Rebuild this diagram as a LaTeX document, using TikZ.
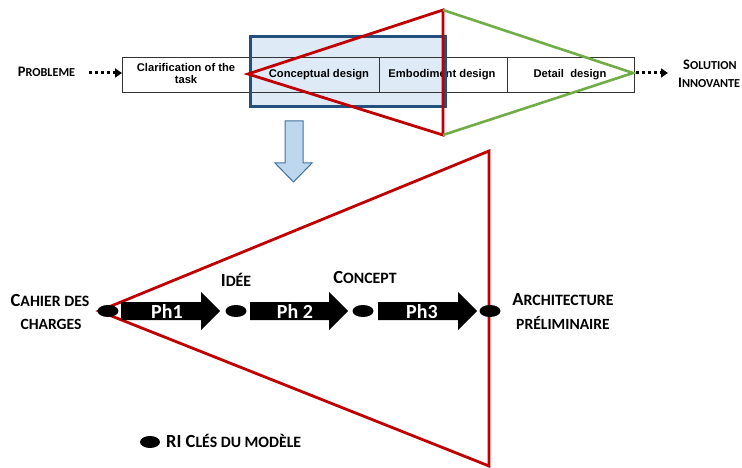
\documentclass[tikz,border=0pt]{standalone}
\usepackage{fontspec}
\setmainfont{Carlito}
\newfontfamily\arialfont{Liberation Sans}
\usetikzlibrary{arrows.meta,shapes.geometric}
\definecolor{redT}{HTML}{C00000}
\definecolor{greenT}{HTML}{70AD47}
\definecolor{blueB}{HTML}{24507D}
\definecolor{blueF}{HTML}{DEEAF6}
\definecolor{arrF}{HTML}{BDD7EE}
\definecolor{arrB}{HTML}{41719C}
\newcommand\capsL[2]{{\fontsize{18.5}{20}\selectfont #1}{\fontsize{15.8}{18}\selectfont #2}}
\newcommand\capsS[2]{{\fontsize{14.5}{16}\selectfont #1}{\fontsize{12.2}{14}\selectfont #2}}
\newcommand\capsLs[1]{{\fontsize{15.6}{18}\selectfont #1}}
\begin{document}
\begin{tikzpicture}[x=1pt,y=-1pt,
  lbl/.style={anchor=base, inner sep=0, font=\bfseries},
  lblw/.style={anchor=base west, inner sep=0, font=\bfseries},
  boxtxt/.style={anchor=base, inner sep=0, font=\arialfont\bfseries\fontsize{11.2}{13}\selectfont},
  dot/.style={ellipse, fill=black, minimum width=21pt, minimum height=12pt, inner sep=0},
  dotarrow/.style={line width=3pt, dash pattern=on 3pt off 3pt, -{Triangle[length=7pt,width=9pt]}},
  blockarrow/.style={fill=black},
  phtxt/.style={anchor=base, inner sep=0, text=white, font=\bfseries\fontsize{20}{22}\selectfont},
  redline/.style={draw=redT, line width=2.8pt, line join=miter},
  greenline/.style={draw=greenT, line width=2.6pt},
  downarrow/.style={fill=arrF, draw=arrB, line width=1pt}
]
\useasboundingbox (0,0) rectangle (742,468);

% ---------- top part ----------
\fill[blueF] (250,37) rectangle (445,107);
\node[draw=black!80, line width=0.8pt, minimum width=512pt, minimum height=35pt, inner sep=0] (proc) at (378,74.5) {};
\draw[black!80, line width=0.8pt] (251,57) -- (251,92);
\draw[black!80, line width=0.8pt] (379,57) -- (379,92);
\draw[black!80, line width=0.8pt] (507,57) -- (507,92);
\node[boxtxt] (t1) at (186,72) {Clarification of the};
\node[boxtxt] (t1b) at (186,84) {task};
\node[boxtxt] (t2) at (319,78) {Conceptual design};
\node[boxtxt] (t3) at (442,78) {Embodiment design};
\node[boxtxt] (t4) at (570,78) {Detail\ \ design};
\draw[blueB, line width=3pt] (250,37) rectangle (445,107);

\coordinate (rA) at (248,74);
\coordinate (rT) at (443,10);
\coordinate (rB) at (443,135);
\coordinate (gA) at (633,73);
\draw[redline] (rT) -- (rA) -- (rB) -- cycle;
\draw[greenline] (rT) -- (gA) -- (rB);

\node[lbl] (prob) at (46.5,77) {\capsS{P}{ROBLEME}};
\coordinate (pa) at (89,73);
\coordinate (pb) at (122,73);
\draw[dotarrow] (pa) -- (pb);
\coordinate (sa) at (636,73);
\coordinate (sb) at (668,73);
\draw[dotarrow] (sa) -- (sb);
\node[lblw] (sol1) at (683,70) {\capsS{S}{OLUTION}};
\node[lblw] (sol2) at (678,88) {\capsS{I}{NNOVANTE}};

% down arrow
\filldraw[downarrow] (285,121) -- (303,121) -- (303,163) -- (312,163) -- (293.5,182) -- (275,163) -- (285,163) -- cycle;

% ---------- bottom part ----------
\coordinate (bA) at (99,311);
\coordinate (bT) at (489,151);
\coordinate (bB) at (489,466);
\draw[redline] (bT) -- (bA) -- (bB) -- cycle;

\fill[blockarrow] (121,302) -- (201,302) -- (201,292) -- (220,311) -- (201,330) -- (201,320) -- (121,320) -- cycle;
\fill[blockarrow] (250,302) -- (329,302) -- (329,292) -- (348,311) -- (329,330) -- (329,320) -- (250,320) -- cycle;
\fill[blockarrow] (378,302) -- (458,302) -- (458,292) -- (477,311) -- (458,330) -- (458,320) -- (378,320) -- cycle;
\node[phtxt] (p1) at (167,318) {Ph1};
\node[phtxt] (p2) at (295,318) {Ph 2};
\node[phtxt] (p3) at (422,318) {Ph3};

\node[dot] (d0) at (108,311) {};
\node[dot] (d1) at (236,311) {};
\node[dot] (d2) at (363,311) {};
\node[dot] (d3) at (490,311) {};

\node[lbl] (cah1) at (50,306.5) {\capsL{C}{AHIER DES}};
\node[lbl] (cah2) at (51,329) {\capsLs{CHARGES}};
\node[lbl] (idee) at (236,286) {\capsL{I}{DÉE}};
\node[lbl] (conc) at (365,283) {\capsL{C}{ONCEPT}};
\node[lbl] (arch1) at (563,305) {\capsL{A}{RCHITECTURE}};
\node[lbl] (arch2) at (563,329) {\capsLs{PRÉLIMINAIRE}};

% legend
\node[dot, minimum width=20pt, minimum height=12pt] (leg) at (150,442) {};
\node[lblw] (legt) at (166,447) {\capsL{RI C}{LÉS DU MODÈLE}};
\end{tikzpicture}
\end{document}
